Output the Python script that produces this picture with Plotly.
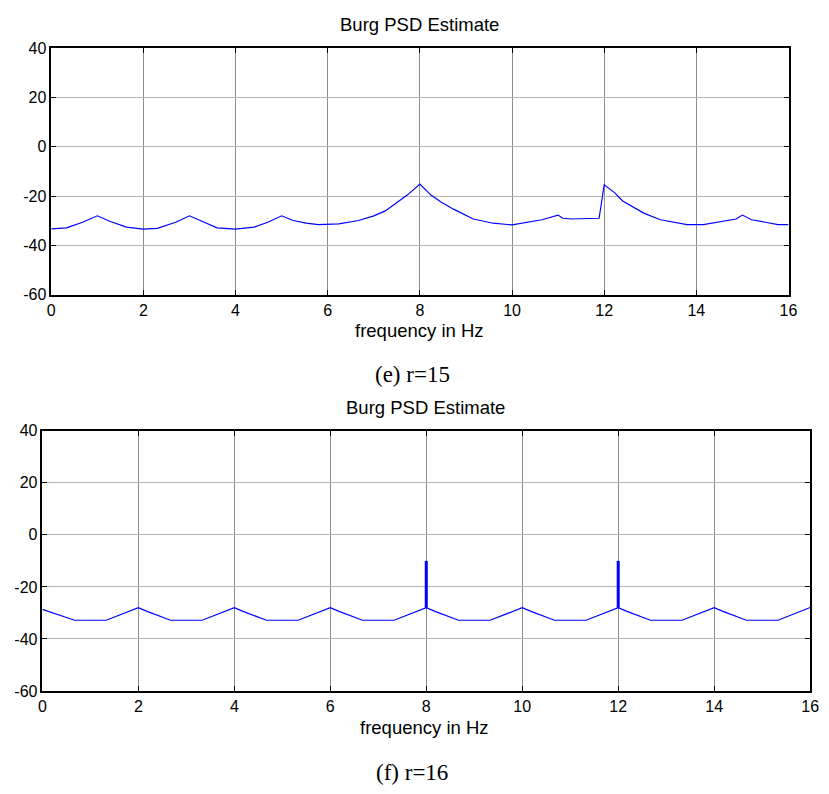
import plotly.graph_objects as go

W, H = 829, 794

# Burg PSD estimate, model order r=15 (frequency in Hz, power in dB)
freq_r15 = [0, 0.33, 0.68, 1.0, 1.27, 1.63, 2.0, 2.3, 2.7, 3.0, 3.27, 3.6, 4.0,
            4.4, 4.7, 5.0, 5.25, 5.53, 5.8, 6.24, 6.67, 7.0, 7.25, 7.5, 7.74,
            8.0, 8.24, 8.45, 8.73, 9.16, 9.59, 10.0, 10.2, 10.65, 11.0, 11.1,
            11.3, 11.6, 11.89, 12.0, 12.23, 12.4, 12.87, 13.22, 13.8, 14.15,
            14.65, 14.86, 15.0, 15.2, 15.5, 15.77, 16.0]
psd_r15 = [-33.3, -32.9, -30.6, -28.0, -30.2, -32.6, -33.4, -33.1, -30.6, -28.0,
           -30.2, -32.9, -33.4, -32.6, -30.6, -28.0, -29.9, -31.0, -31.6, -31.3,
           -29.9, -28.0, -26.0, -22.5, -19.4, -15.1, -19.6, -22.3, -25.3, -29.3,
           -31.0, -31.7, -31.0, -29.6, -27.7, -29.0, -29.3, -29.3, -29.0, -15.4,
           -18.7, -22.0, -27.0, -29.6, -31.6, -31.6, -30.0, -29.3, -27.7, -29.6,
           -30.6, -31.6, -31.6]

# Burg PSD estimate, model order r=16
freq_r16 = [0, 0.17, 0.35, 0.52, 0.67, 1.33, 1.48, 1.65, 1.83,
            2.0, 2.17, 2.35, 2.52, 2.67, 3.33, 3.48, 3.65, 3.83,
            4.0, 4.17, 4.35, 4.52, 4.67, 5.33, 5.48, 5.65, 5.83,
            6.0, 6.17, 6.35, 6.52, 6.67, 7.33, 7.48, 7.65, 7.83,
            8.0, 8.17, 8.35, 8.52, 8.67, 9.33, 9.48, 9.65, 9.83,
            10.0, 10.17, 10.35, 10.52, 10.67, 11.33, 11.48, 11.65, 11.83,
            12.0, 12.17, 12.35, 12.52, 12.67, 13.33, 13.48, 13.65, 13.83,
            14.0, 14.17, 14.35, 14.52, 14.67, 15.33, 15.48, 15.65, 15.83,
            16.0]
psd_r16 = [-28.6, -29.6, -30.7, -31.8, -32.8, -32.8, -31.7, -30.5, -29.3,
           -28.0, -29.3, -30.5, -31.7, -32.8, -32.8, -31.7, -30.5, -29.3,
           -28.0, -29.3, -30.5, -31.7, -32.8, -32.8, -31.7, -30.5, -29.3,
           -28.0, -29.3, -30.5, -31.7, -32.8, -32.8, -31.7, -30.5, -29.3,
           -28.0, -29.3, -30.5, -31.7, -32.8, -32.8, -31.7, -30.5, -29.3,
           -28.0, -29.3, -30.5, -31.7, -32.8, -32.8, -31.7, -30.5, -29.3,
           -28.0, -29.3, -30.5, -31.7, -32.8, -32.8, -31.7, -30.5, -29.3,
           -28.0, -29.3, -30.5, -31.7, -32.8, -32.8, -31.7, -30.5, -29.3,
           -27.9]

# Narrow spectral lines at the sinusoid frequencies (r=16)
spike_freq = [8, 12]
spike_base = [-28.0, -28.0]
spike_peak = [-10.0, -10.0]

x_ticks = [0, 2, 4, 6, 8, 10, 12, 14, 16]
x_tick_labels = ["0", "2", "4", "6", "8", "10", "12", "14", "16"]
y_ticks = [-60, -40, -20, 0, 20, 40]
y_tick_labels = ["-60", "-40", "-20", "0", "20", "40"]

titles = ["Burg PSD Estimate", "Burg PSD Estimate"]
xlabels = ["frequency in Hz", "frequency in Hz"]
captions = ["(e) r=15", "(f) r=16"]

BLUE = "#0000ff"
SANS = "Liberation Sans, Arial, sans-serif"
SERIF = "Liberation Serif, Times New Roman, serif"

spike_x, spike_y = [], []
for f, b, p in zip(spike_freq, spike_base, spike_peak):
    spike_x += [f, f, None]
    spike_y += [b, p, None]

fig = go.Figure()
fig.add_trace(go.Scatter(x=freq_r15, y=psd_r15, mode="lines",
                         line=dict(color=BLUE, width=1.2),
                         xaxis="x", yaxis="y", showlegend=False))
fig.add_trace(go.Scatter(x=freq_r16, y=psd_r16, mode="lines",
                         line=dict(color=BLUE, width=1.2),
                         xaxis="x2", yaxis="y2", showlegend=False))
fig.add_trace(go.Scatter(x=spike_x, y=spike_y, mode="lines",
                         line=dict(color=BLUE, width=3),
                         xaxis="x2", yaxis="y2", showlegend=False))


def px_x(v):
    return v / W


def px_y(v):
    return 1 - v / H


axis_common = dict(showline=True, linecolor="black", linewidth=1.5,
                   mirror="ticks", ticks="inside", ticklen=5,
                   tickcolor="black", tickwidth=1, showgrid=True,
                   zeroline=False, tickfont=dict(family=SANS, size=16,
                                                 color="black"))
x_common = dict(range=[0, 16], tickvals=x_ticks, ticktext=x_tick_labels,
                gridcolor="#8c8c8c", **axis_common)
y_common = dict(range=[-60, 40], tickvals=y_ticks, ticktext=y_tick_labels,
                gridcolor="#b4b4b4", **axis_common)

fig.update_layout(
    width=W, height=H,
    margin=dict(l=0, r=0, t=0, b=0),
    paper_bgcolor="white", plot_bgcolor="white",
    xaxis=dict(domain=[px_x(48), px_x(797)], anchor="y", **x_common),
    yaxis=dict(domain=[px_y(293), px_y(41)], anchor="x", **y_common),
    xaxis2=dict(domain=[px_x(39), px_x(819)], anchor="y2", **x_common),
    yaxis2=dict(domain=[px_y(698), px_y(432)], anchor="x2", **y_common),
)

label_rows = [
    (titles[0], 422, 17, SANS, 18.5),
    (xlabels[0], 422, 330, SANS, 18.5),
    (captions[0], 415, 375, SERIF, 23),
    (titles[1], 428, 408, SANS, 18.5),
    (xlabels[1], 427, 735, SANS, 18.5),
    (captions[1], 415, 781, SERIF, 23),
]
for text, cx, cy, fam, size in label_rows:
    fig.add_annotation(text=text, xref="paper", yref="paper",
                       x=px_x(cx), y=px_y(cy), xanchor="center",
                       yanchor="middle", showarrow=False,
                       font=dict(family=fam, size=size, color="black"))

fig.write_html("out.html")
